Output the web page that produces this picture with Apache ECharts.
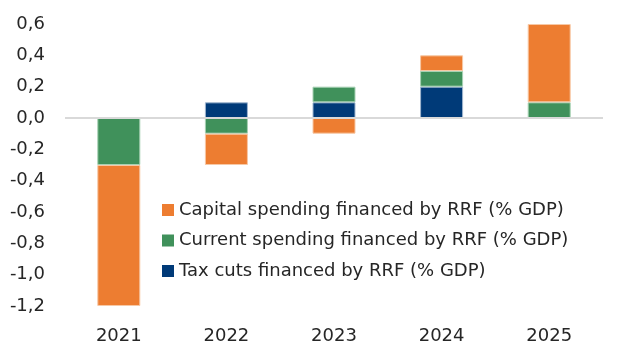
<!DOCTYPE html>
<html>
<head>
<meta charset="utf-8">
<script src="https://cdn.jsdelivr.net/npm/echarts@6/dist/echarts.min.js"></script>
<style>
  html, body { margin: 0; padding: 0; background: #ffffff; }
  #chart { width: 625px; height: 341px; }
</style>
</head>
<body>
<div id="chart"></div>
<script>
// RRF-financed measures, % of GDP
const years = ['2021', '2022', '2023', '2024', '2025'];
const taxCuts = [0, 0.1, 0.1, 0.2, 0];
const currentSpending = [-0.3, -0.1, 0.1, 0.1, 0.1];
const capitalSpending = [-0.9, -0.2, -0.1, 0.1, 0.5];
const yTicks = [-1.2, -1.0, -0.8, -0.6, -0.4, -0.2, 0, 0.2, 0.4, 0.6];

const FONT = 'DejaVu Sans';
const TEXT = '#262626';

const chart = echarts.init(document.getElementById('chart'), null, { renderer: 'canvas' });

function bar(name, data, color, border) {
  return {
    name: name,
    type: 'bar',
    stack: 'rrf',
    barWidth: 43,
    data: data,
    itemStyle: { color: color, borderColor: border, borderWidth: 1 },
    emphasis: { disabled: true }
  };
}

chart.setOption({
  animation: false,
  textStyle: { fontFamily: FONT },
  grid: {
    left: 65, right: 22, top: 24, bottom: 35,
    containLabel: false,
    outerBoundsMode: 'none'
  },
  legend: {
    orient: 'vertical',
    left: 162,
    top: 201,
    padding: 0,
    itemWidth: 12,
    itemHeight: 12,
    itemGap: 12.5,
    icon: 'rect',
    itemStyle: { borderWidth: 0 },
    textStyle: { fontFamily: FONT, fontSize: 18, lineHeight: 18, color: TEXT },
    data: [
      'Capital spending financed by RRF (% GDP)',
      'Current spending financed by RRF (% GDP)',
      'Tax cuts financed by RRF (% GDP)'
    ]
  },
  xAxis: {
    type: 'category',
    data: years,
    axisLine: { show: false },
    axisTick: { show: false },
    axisLabel: { fontFamily: FONT, fontSize: 18, color: TEXT, margin: 21 }
  },
  yAxis: {
    type: 'value',
    min: -1.2,
    max: 0.6,
    interval: 0.2,
    splitLine: { show: false },
    axisLine: { show: false },
    axisTick: { show: false },
    axisLabel: {
      fontFamily: FONT, fontSize: 18, color: TEXT, margin: 20,
      formatter: v => {
        const t = yTicks.find(k => Math.abs(k - v) < 1e-9);
        return (t === undefined ? v : t).toFixed(1).replace('.', ',');
      }
    }
  },
  series: [
    Object.assign(bar('Tax cuts financed by RRF (% GDP)', taxCuts, '#003A78', '#9fb6cf'), {
      markLine: {
        silent: true,
        symbol: 'none',
        label: { show: false },
        lineStyle: { color: '#d9d9d9', width: 2, type: 'solid' },
        data: [{ yAxis: 0 }]
      }
    }),
    bar('Current spending financed by RRF (% GDP)', currentSpending, '#40915B', '#a6d1b3'),
    bar('Capital spending financed by RRF (% GDP)', capitalSpending, '#ED7D31', '#f7c8a5')
  ]
});
</script>
</body>
</html>
